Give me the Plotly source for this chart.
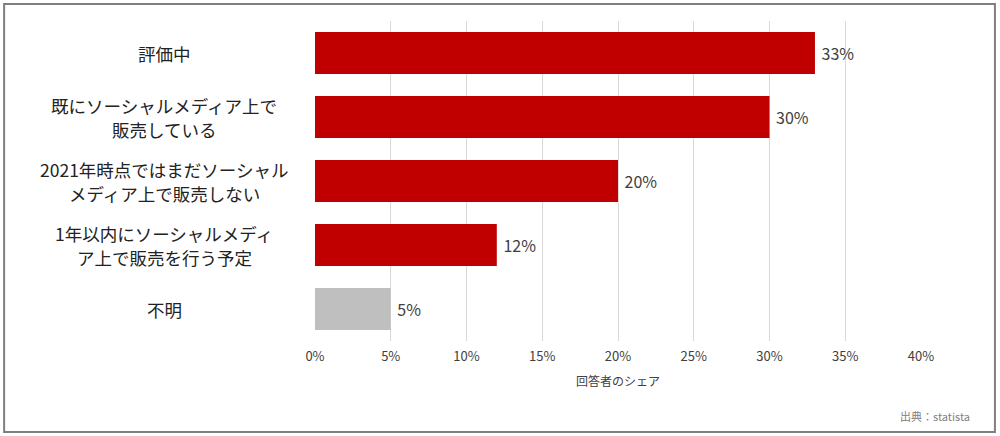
import plotly.graph_objects as go

# data
categories = [
    "評価中",
    "既にソーシャルメディア上で<br>販売している",
    "2021年時点ではまだソーシャル<br>メディア上で販売しない",
    "1年以内にソーシャルメディ<br>ア上で販売を行う予定",
    "不明",
]
values = [33, 30, 20, 12, 5]
bar_colors = ["#c00000", "#c00000", "#c00000", "#c00000", "#bfbfbf"]
x_ticks = [0, 5, 10, 15, 20, 25, 30, 35, 40]
x_tick_labels = [f"{t}%" for t in x_ticks]

font_jp = "Noto Sans CJK JP"

fig = go.Figure()
fig.add_trace(go.Bar(
    y=categories,
    x=values,
    orientation="h",
    marker=dict(color=bar_colors, line=dict(width=0)),
    text=[f" {v}%" for v in values],
    textposition="outside",
    textfont=dict(family=font_jp, size=16, color="#404040"),
    cliponaxis=False,
    hoverinfo="skip",
))

# left category labels, centred, one annotation per line
for cat in categories:
    lines = cat.split("<br>")
    n = len(lines)
    for i, line in enumerate(lines):
        fig.add_annotation(
            x=-0.249, xref="paper", y=cat, yref="y",
            text=line, showarrow=False, xanchor="center", yanchor="middle",
            yshift=(n - 1) * 12 - i * 24,
            font=dict(family=font_jp, size=17.5, color="#222222"),
        )

fig.add_annotation(
    x=0.5, xref="paper", y=-0.122, yref="paper",
    text="回答者のシェア", showarrow=False, xanchor="center", yanchor="middle",
    font=dict(family=font_jp, size=12, color="#404040"),
)
fig.add_annotation(
    x=1.084, xref="paper", y=-0.234, yref="paper",
    text="出典：statista", showarrow=False, xanchor="right", yanchor="middle",
    font=dict(family=font_jp, size=11, color="#808080"),
)

# outer frame
fig.add_shape(
    type="rect", xref="paper", yref="paper",
    x0=-0.513, x1=1.122, y0=-0.284, y1=1.053,
    line=dict(color="#7f7f7f", width=2), fillcolor="rgba(0,0,0,0)",
    layer="above",
)

fig.update_layout(
    width=1000, height=436,
    margin=dict(l=315, r=79, t=21, b=95),
    paper_bgcolor="white", plot_bgcolor="white",
    showlegend=False, bargap=0.34,
    font=dict(family=font_jp),
)
fig.update_xaxes(
    range=[0, 40], tickvals=x_ticks, ticktext=x_tick_labels,
    showgrid=True, gridcolor="#d9d9d9", gridwidth=1,
    zeroline=False, showline=False, ticks="", ticklabelstandoff=6,
    tickfont=dict(family=font_jp, size=13, color="#404040"),
)
fig.update_yaxes(
    autorange="reversed", showticklabels=False, showgrid=False,
    zeroline=False, showline=False, ticks="",
)

fig.write_html("out.html", config={"displayModeBar": False},
               post_script="document.body.style.margin='0';")
